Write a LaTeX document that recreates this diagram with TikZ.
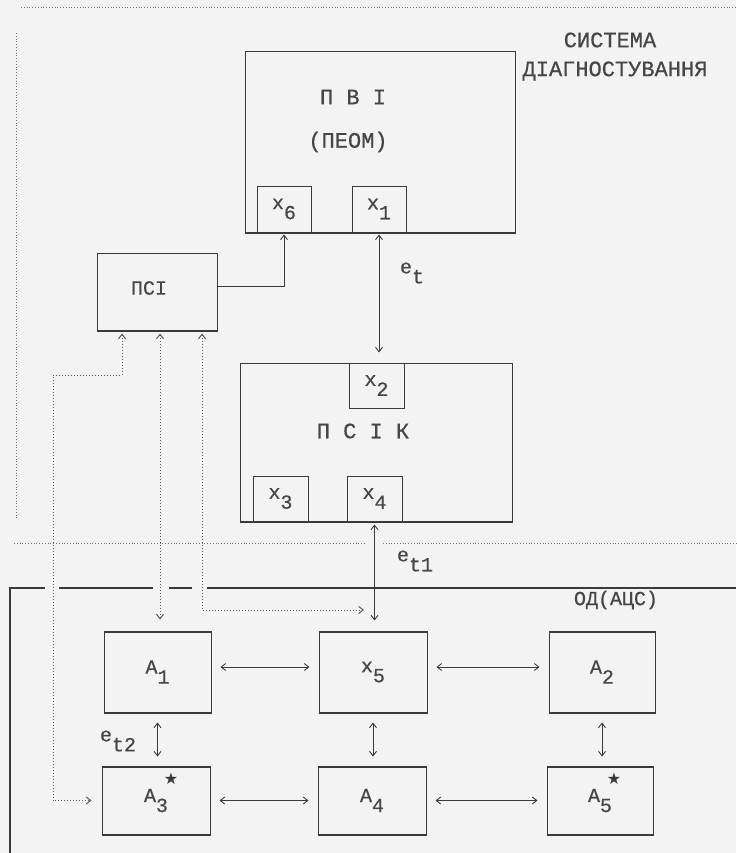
\documentclass[tikz,border=0pt]{standalone}
\usepackage{fontspec}
\setmainfont{Liberation Mono}
\newfontfamily\scanfont[FakeBold=0.6]{Liberation Mono}
\newfontfamily\symfont{DejaVu Sans}
\usetikzlibrary{arrows.meta,calc}
\definecolor{scanbg}{RGB}{243,243,243}
\definecolor{ink}{RGB}{58,58,58}
\definecolor{txt}{RGB}{70,70,70}
\newcommand{\dn}[1]{\raisebox{-10pt}{#1}}
\newcommand{\RA}{672}
\newcommand{\RB}{800.5}

\begin{document}
\begin{tikzpicture}[x=1pt, y=-1pt,
    >={Straight Barb[length=4.5pt,width=7pt]},
    blk/.style={draw=ink, line width=1pt, inner sep=0pt, text=txt,
      font=\scanfont\fontsize{20}{24}\selectfont},
    bar/.style={draw=ink, line width=2pt},
    link/.style={draw=ink, line width=0.9pt},
    sig/.style={draw=ink!85, line width=1pt, dotted},
    bound/.style={draw=ink!70, line width=0.8pt, dotted},
    frame/.style={draw=ink, line width=1.3pt},
    ttl/.style={text=txt, font=\scanfont\fontsize{22}{26}\selectfont, inner sep=0pt},
    lbl/.style={text=txt, font=\scanfont\fontsize{20}{24}\selectfont, inner sep=0pt},
    mark star/.style={text=ink, inner sep=0pt, font=\symfont\fontsize{16}{16}\selectfont},
  ]
  \fill[scanbg] (0,0) rectangle (736,853);
  \useasboundingbox (0,0) rectangle (736,853);

  %% ===== diagnostic system boundary =====
  \draw[bound] (21,7) -- (736,7);
  \draw[bound] (16,33) -- (16,518);
  \draw[bound] (14,543) -- (366,543);
  \draw[bound] (383,543) -- (736,543);
  \node[ttl] (sys1) at (610,40) {СИСТЕМА};
  \node[ttl] (sys2) at (615,71) {ДІАГНОСТУВАННЯ};

  %% ===== upper blocks =====
  \node[blk, minimum width=270, minimum height=180] (pvi) at (380,142) {};
  \node[ttl] (pvit) at (353,97) {П  В  І};
  \node[ttl] (pvis) at (348,142) {(ПЕОМ)};
  \node[blk, minimum width=54, minimum height=46] (x6) at (284,209) {x\dn{6}};
  \node[blk, minimum width=54, minimum height=46] (x1) at (379,209) {x\dn{1}};

  \node[blk, minimum width=120, minimum height=77] (psi) at (157,291.5) {};
  \node[lbl] (psit) at (149,288) {ПСІ};

  \node[blk, minimum width=272, minimum height=158] (psik) at (376,442) {};
  \node[ttl] (psikt) at (363,431) {П С І К};
  \node[blk, minimum width=55, minimum height=45] (x2) at (376.5,385.5) {x\dn{2}};
  \node[blk, minimum width=55, minimum height=45] (x3) at (280.5,498.5) {x\dn{3}};
  \node[blk, minimum width=55, minimum height=45] (x4) at (374.5,498.5) {x\dn{4}};

  %% ===== object of diagnosis =====
  \draw[frame] (10,853) -- (10,588) -- (45,588);
  \foreach \xa/\xb in {59/153,169/192,207/736} {
    \draw[frame] (\xa,588) -- (\xb,588);
  }
  \node[lbl] (od) at (616,600) {ОД(АЦС)};

  \node[blk, minimum width=107, minimum height=80] (a1) at (157.5,\RA) {A\dn{1}};
  \node[blk, minimum width=108, minimum height=80] (x5) at (373,\RA) {x\dn{5}};
  \node[blk, minimum width=106, minimum height=80] (a2) at (602,\RA) {A\dn{2}};
  \node[blk, minimum width=108, minimum height=67] (a3) at (156,\RB) {A\dn{3}};
  \node[blk, minimum width=108, minimum height=67] (a4) at (372,\RB) {A\dn{4}};
  \node[blk, minimum width=106, minimum height=67] (a5) at (600,\RB) {A\dn{5}};
  \node[mark star] (s3) at ($(a3.north)+(15,12)$) {★};
  \node[mark star] (s5) at ($(a5.north)+(14,12)$) {★};

  % heavier horizontal edges
  \foreach \n in {pvi,psi,psik,a1,x5,a2,a3,a4,a5} {
    \draw[bar] (\n.south west) -- (\n.south east);
  }
  \foreach \n in {a1,x5,a2,a3,a4,a5} {
    \draw[bar] (\n.north west) -- (\n.north east);
  }

  %% ===== connections =====
  \draw[link,->,shorten >=2pt] ([yshift=5pt]psi.east) -| (x6.south);
  \draw[link,<->,shorten <=2pt,shorten >=10pt] (x1.south) -- (x1.south |- x2.north);
  \node[lbl] (et) at (412,273) {e\dn{t}};
  \draw[link,<->,shorten <=3pt,shorten >=11pt] (x4.south) -- (x4.south |- x5.north);
  \node[lbl] (et1) at (415,561) {e\dn{t1}};

  \draw[link,<->,shorten <=9pt,shorten >=9pt] ([yshift=5pt]a1.east) -- ([yshift=5pt]x5.west);
  \draw[link,<->,shorten <=9pt,shorten >=9pt] ([yshift=5pt]x5.east) -- ([yshift=5pt]a2.west);
  \draw[link,<->,shorten <=9pt,shorten >=9pt] (a3.east) -- (a4.west);
  \draw[link,<->,shorten <=9pt,shorten >=9pt] (a4.east) -- (a5.west);
  \draw[link,<->,shorten <=10pt,shorten >=10pt] (a1.south) -- (a1.south |- a3.north);
  \draw[link,<->,shorten <=10pt,shorten >=10pt] (x5.south) -- (x5.south |- a4.north);
  \draw[link,<->,shorten <=10pt,shorten >=10pt] (a2.south) -- (a2.south |- a5.north);
  \node[lbl] (et2) at (118,741) {e\dn{t2}};

  % signal lines of the interface block
  \coordinate (sigend) at (364,610);
  \draw[sig,<->,shorten <=3pt,shorten >=10pt] ([xshift=-35pt]psi.south) |- (53,375) |- (a3.west);
  \draw[sig,<->,shorten <=3pt,shorten >=12pt] ([xshift=3pt]psi.south) -- ([xshift=3pt]psi.south |- a1.north);
  \draw[sig,<->,shorten <=3pt] ([xshift=45pt]psi.south) |- (sigend);
\end{tikzpicture}
\end{document}
